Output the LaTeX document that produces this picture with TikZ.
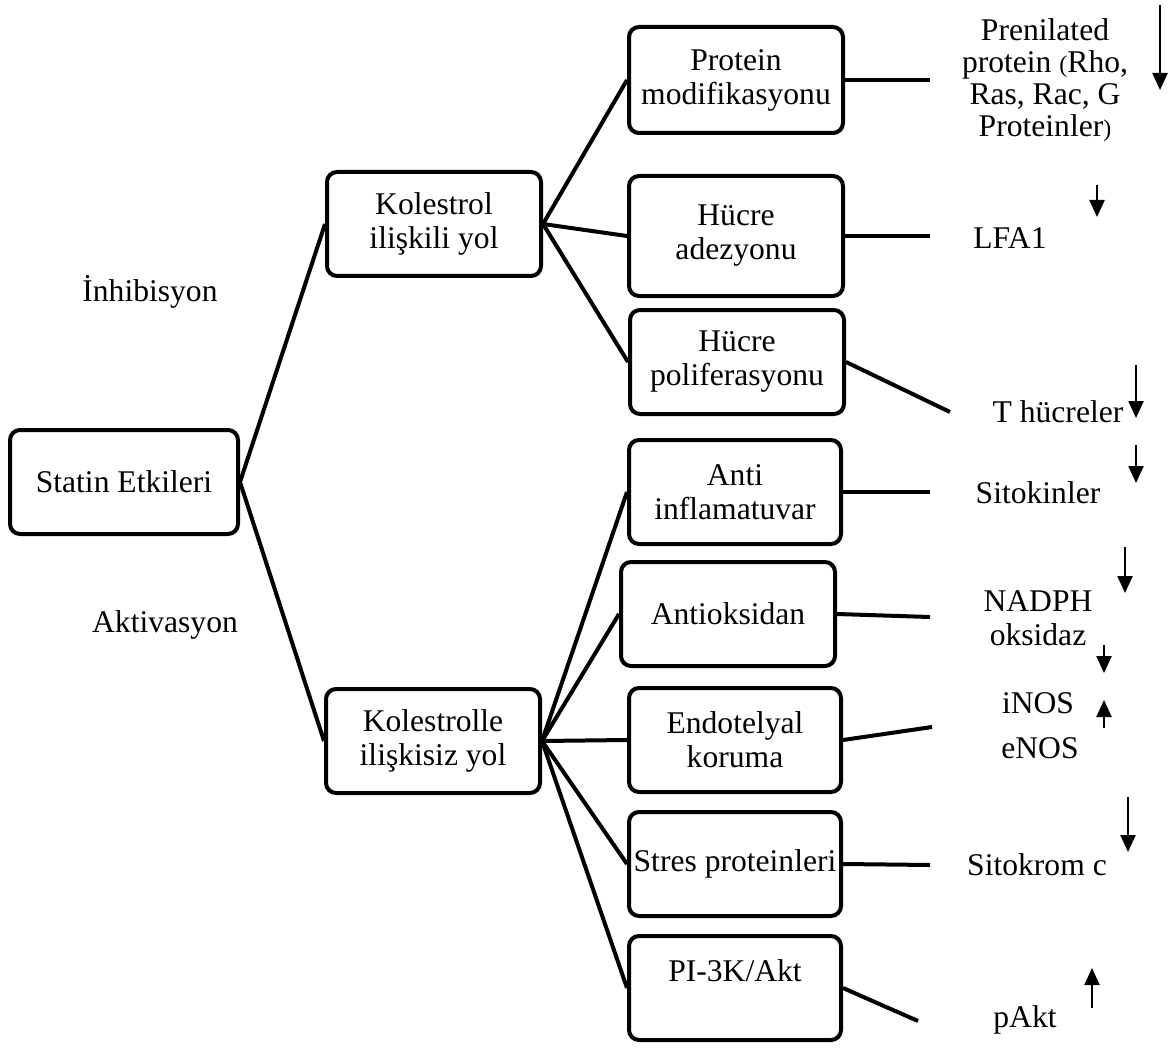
\documentclass[tikz,border=0pt]{standalone}
\usepackage{fontspec}
\setmainfont{Liberation Serif}
\usetikzlibrary{arrows.meta}
\newcommand{\kpar}[1]{{\fontsize{12pt}{12pt}\selectfont#1}}
\begin{document}
\begin{tikzpicture}[x=0.5pt, y=-0.5pt,
    box/.style={draw, line width=2pt, rounded corners=5pt, align=center, inner sep=1pt,
        font=\fontsize{15.8pt}{17pt}\selectfont, minimum width=107pt, minimum height=52pt},
    link/.style={line width=2pt},
    lbl/.style={align=center, inner sep=0pt, font=\fontsize{15.8pt}{17pt}\selectfont},
    fall/.style={-{Triangle[length=8.5pt, width=7.5pt]}, line width=1.2pt}]
    \useasboundingbox (0,0) rectangle (1172,1048);

    % Kutular
    \node[box, minimum width=114pt] (statin) at (124,482) {Statin Etkileri};
    \node[box] (kol) at (434,224) {Kolestrol\\ilişkili yol};
    \node[box] (kolz) at (433,741) {Kolestrolle\\ilişkisiz yol};

    \node[box, minimum height=53pt] (pmod) at (736,80) {Protein\\modifikasyonu};
    \node[box, minimum height=60pt] (adez) at (736,236) {Hücre\\adezyonu};
    \node[box] (polif) at (737,362) {Hücre\\poliferasyonu};
    \node[box, minimum width=106pt] (antiinf) at (735,492) {Anti\\inflamatuvar};
    \node[box] (antiok) at (728,614) {Antioksidan};
    \node[box, minimum width=106pt] (endo) at (735,740) {Endotelyal\\koruma};
    \node[box, minimum width=106pt] (stres) at (735,864) {Stres proteinleri};
    \node[box, minimum width=106pt] (pi3k) at (735,988) {PI-3K/Akt\\\mbox{}};

    % Yan yazılar
    \node[lbl] (inh) at (150,292) {İnhibisyon};
    \node[lbl] (akt) at (165,625) {Aktivasyon};

    % Sağ taraf
    \node[lbl, font=\fontsize{15.8pt}{16pt}\selectfont] (prenil) at (1045,80)
        {Prenilated\\protein \kpar{(}Rho,\\Ras, Rac, G\\Proteinler\kpar{)}};
    \node[lbl] (lfa) at (1010,238) {LFA1};
    \node[lbl] (thuc) at (1058,412) {T hücreler};
    \node[lbl] (sitok) at (1038,493) {Sitokinler};
    \node[lbl] (nadph) at (1038,618) {NADPH\\oksidaz};
    \node[lbl] (inos) at (1038,703) {iNOS};
    \node[lbl] (enos) at (1040,748) {eNOS};
    \node[lbl] (sitkr) at (1037,865) {Sitokrom c};
    \node[lbl] (pakt) at (1025,1020) {pAkt};

    % Uç noktalar
    \coordinate (pmodend) at (930,80);
    \coordinate (adezend) at (930,236);
    \coordinate (polifend) at (950,412);
    \coordinate (antiinfend) at (930,492);
    \coordinate (antiokend) at (930,617);
    \coordinate (endoend) at (932,727);
    \coordinate (stresend) at (930,865);
    \coordinate (pi3kend) at (918,1021);

    % Bağlantılar
    \draw[link] (kol.west) -- (statin.east) -- (kolz.west);
    \foreach \n in {pmod, adez, polif}
        \draw[link] (kol.east) -- (\n.west);
    \foreach \n in {antiinf, antiok, endo, stres, pi3k}
        \draw[link] (kolz.east) -- (\n.west);
    \foreach \n in {pmod, adez, polif, antiinf, antiok, endo, stres, pi3k}
        \draw[link] (\n.east) -- (\n end);

    % Oklar
    \draw[fall] (1160,5) -- (1160,90);
    \draw[fall] (1097,185) -- (1097,217);
    \draw[fall] (1136,365) -- (1136,418);
    \draw[fall] (1136,445) -- (1136,483);
    \draw[fall] (1125,547) -- (1125,593);
    \draw[fall] (1104,645) -- (1104,673);
    \draw[fall] (1104,728) -- (1104,700);
    \draw[fall] (1128,797) -- (1128,852);
    \draw[fall] (1092,1008) -- (1092,968);
\end{tikzpicture}
\end{document}
